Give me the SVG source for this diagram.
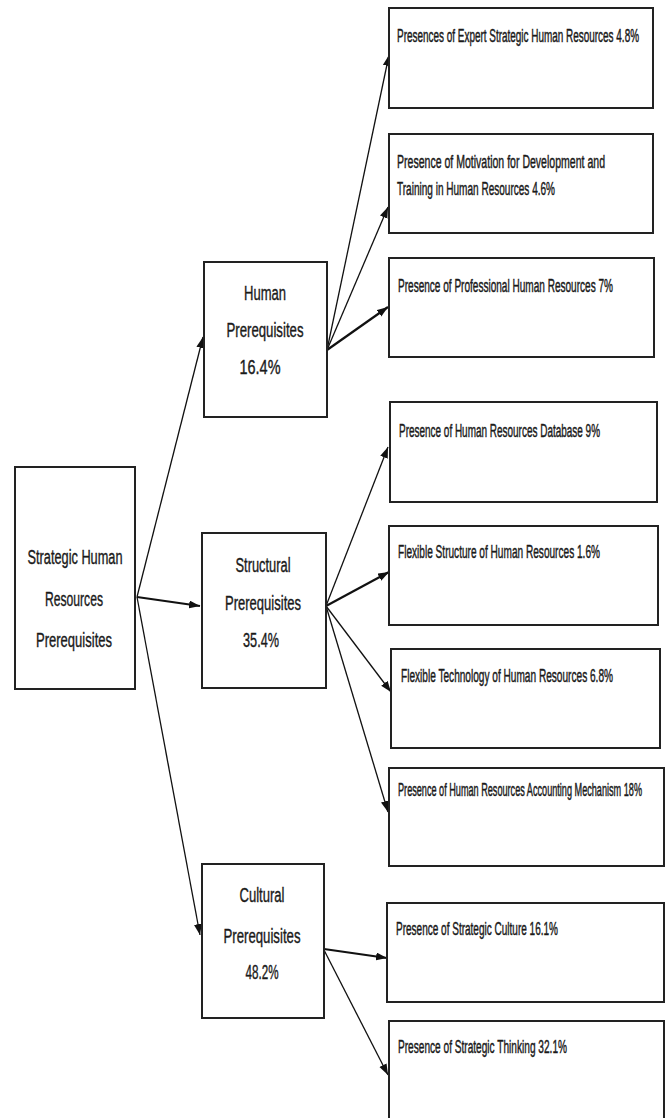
<svg xmlns="http://www.w3.org/2000/svg" width="669" height="1118" viewBox="0 0 669 1118">
<defs>
<marker id="arr" markerUnits="userSpaceOnUse" markerWidth="12" markerHeight="9" refX="11" refY="4" orient="auto">
<path d="M0,0 L11,4 L0,8 z" fill="#111"/>
</marker>
<style>
.box{fill:#fff;stroke:#222;stroke-width:2}
.t{font-family:"Liberation Sans",Arial,sans-serif;fill:#1a1a1a;stroke:#1a1a1a;stroke-width:0.25}
.s{font-size:10px}
.m{font-size:13px;text-anchor:middle}
.c{stroke:#111;stroke-width:1.3;fill:none;marker-end:url(#arr)}
.b{stroke-width:2.2}
</style>
</defs>
<rect width="669" height="1118" fill="#fff"/>

<g id="connectors">
<line class="c" x1="137" y1="597" x2="203" y2="337"/>
<line class="c b" x1="137" y1="597" x2="200" y2="606"/>
<line class="c" x1="137" y1="597" x2="200" y2="935"/>
<line class="c" x1="327" y1="350" x2="389" y2="55"/>
<line class="c" x1="327" y1="350" x2="388" y2="207"/>
<line class="c b" x1="327" y1="350" x2="388" y2="307"/>
<line class="c" x1="326" y1="606" x2="388" y2="447"/>
<line class="c b" x1="326" y1="606" x2="389" y2="572"/>
<line class="c" x1="326" y1="606" x2="391" y2="692"/>
<line class="c" x1="326" y1="606" x2="388" y2="812"/>
<line class="c b" x1="324" y1="949" x2="387" y2="958"/>
<line class="c" x1="324" y1="950" x2="388" y2="1075"/>
</g>

<g id="root">
<rect class="box" x="15" y="467" width="120" height="222"/>
<text class="t m" transform="translate(75,564) scale(1,1.6)" textLength="95" lengthAdjust="spacingAndGlyphs">Strategic Human</text>
<text class="t m" transform="translate(74,606) scale(1,1.6)" textLength="58" lengthAdjust="spacingAndGlyphs">Resources</text>
<text class="t m" transform="translate(74,647) scale(1,1.6)" textLength="76" lengthAdjust="spacingAndGlyphs">Prerequisites</text>
</g>

<g id="human">
<rect class="box" x="204" y="262" width="123" height="155"/>
<text class="t m" transform="translate(265,300) scale(1,1.6)" textLength="42" lengthAdjust="spacingAndGlyphs">Human</text>
<text class="t m" transform="translate(265,337) scale(1,1.6)" textLength="77" lengthAdjust="spacingAndGlyphs">Prerequisites</text>
<text class="t m" transform="translate(260,374) scale(1,1.6)" textLength="41" lengthAdjust="spacingAndGlyphs">16.4%</text>
</g>

<g id="structural">
<rect class="box" x="202" y="533" width="124" height="155"/>
<text class="t m" transform="translate(263,572) scale(1,1.6)" textLength="55" lengthAdjust="spacingAndGlyphs">Structural</text>
<text class="t m" transform="translate(263,610) scale(1,1.6)" textLength="76" lengthAdjust="spacingAndGlyphs">Prerequisites</text>
<text class="t m" transform="translate(261,647) scale(1,1.6)" textLength="36" lengthAdjust="spacingAndGlyphs">35.4%</text>
</g>

<g id="cultural">
<rect class="box" x="202" y="864" width="122" height="154"/>
<text class="t m" transform="translate(262,902) scale(1,1.6)" textLength="45" lengthAdjust="spacingAndGlyphs">Cultural</text>
<text class="t m" transform="translate(262,943) scale(1,1.6)" textLength="77" lengthAdjust="spacingAndGlyphs">Prerequisites</text>
<text class="t m" transform="translate(262,979) scale(1,1.6)" textLength="33" lengthAdjust="spacingAndGlyphs">48.2%</text>
</g>

<g id="h1">
<rect class="box" x="389" y="8" width="264" height="100"/>
<text class="t s" transform="translate(397,42) scale(1,1.9)" textLength="242" lengthAdjust="spacingAndGlyphs">Presences of Expert Strategic Human Resources 4.8%</text>
</g>
<g id="h2">
<rect class="box" x="389" y="134" width="264" height="99"/>
<text class="t s" transform="translate(397,168) scale(1,1.9)" textLength="208" lengthAdjust="spacingAndGlyphs">Presence of Motivation for Development and</text>
<text class="t s" transform="translate(397,195) scale(1,1.9)" textLength="158" lengthAdjust="spacingAndGlyphs">Training in Human Resources 4.6%</text>
</g>
<g id="h3">
<rect class="box" x="389" y="258" width="265" height="99"/>
<text class="t s" transform="translate(398,292) scale(1,1.9)" textLength="215" lengthAdjust="spacingAndGlyphs">Presence of Professional Human Resources 7%</text>
</g>
<g id="s1">
<rect class="box" x="390" y="402" width="267" height="100"/>
<text class="t s" transform="translate(399,437) scale(1,1.9)" textLength="201" lengthAdjust="spacingAndGlyphs">Presence of Human Resources Database 9%</text>
</g>
<g id="s2">
<rect class="box" x="389" y="526" width="269" height="99"/>
<text class="t s" transform="translate(398,558) scale(1,1.9)" textLength="202" lengthAdjust="spacingAndGlyphs">Flexible Structure of Human Resources 1.6%</text>
</g>
<g id="s3">
<rect class="box" x="391" y="649" width="269" height="99"/>
<text class="t s" transform="translate(401,682) scale(1,1.9)" textLength="212" lengthAdjust="spacingAndGlyphs">Flexible Technology of Human Resources 6.8%</text>
</g>
<g id="s4">
<rect class="box" x="389" y="768" width="275" height="98"/>
<text class="t s" transform="translate(398,796) scale(1.0,1.9)" style="font-size:9.2px" textLength="244" lengthAdjust="spacingAndGlyphs">Presence of Human Resources Accounting Mechanism 18%</text>
</g>
<g id="c1">
<rect class="box" x="387" y="903" width="277" height="99"/>
<text class="t s" transform="translate(396,935) scale(1,1.9)" textLength="162" lengthAdjust="spacingAndGlyphs">Presence of Strategic Culture 16.1%</text>
</g>
<g id="c2">
<rect class="box" x="389" y="1021" width="275" height="110"/>
<text class="t s" transform="translate(398,1053) scale(1,1.9)" textLength="169" lengthAdjust="spacingAndGlyphs">Presence of Strategic Thinking 32.1%</text>
</g>
</svg>
